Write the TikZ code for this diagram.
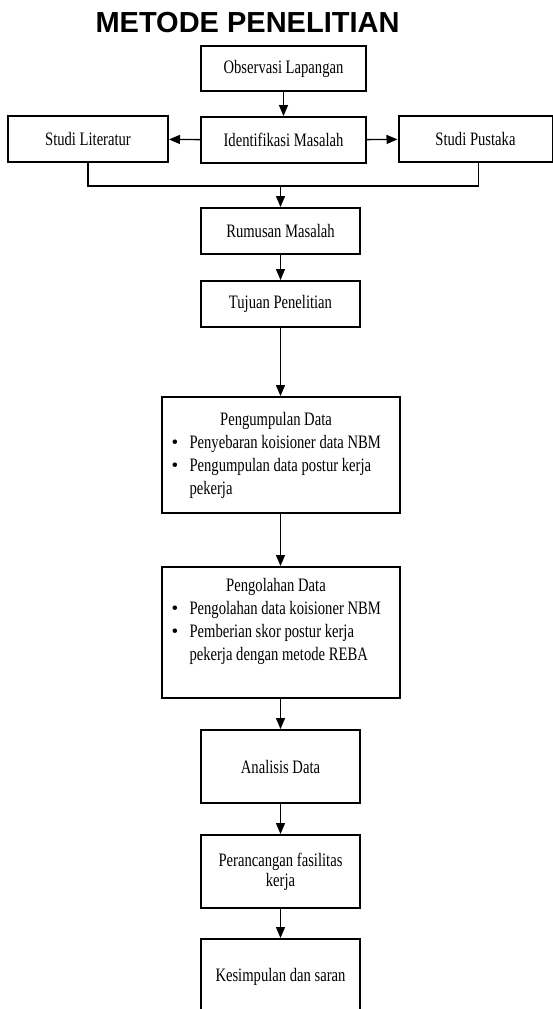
\documentclass[tikz,border=0pt]{standalone}
\usepackage{fontspec}
\setmainfont{Liberation Serif}[FakeStretch=0.77]
\newfontfamily\titlefont{Liberation Sans}
\newfontfamily\bulletfont{Liberation Serif}
\newcommand{\butir}{{\bulletfont\textbullet}}
\usepackage{tikz}
\usetikzlibrary{arrows.meta, positioning, calc}
\tikzset{
  stepbox/.style={rectangle,draw,line width=2pt,minimum width=159pt,minimum height=#1pt,
    align=center,inner sep=2pt,font=\fontsize{19}{20}\selectfont},
  widebox/.style={rectangle,draw,line width=2pt,minimum width=238pt,minimum height=#1pt,
    align=left,inner sep=2pt,font=\fontsize{19}{23}\selectfont},
  arrow/.style={-{Triangle[length=11pt,width=9pt]},line width=1.4pt},
  link/.style={line width=1.4pt},
}
\begin{document}
\begin{tikzpicture}[x=1pt,y=-1pt]
    \useasboundingbox (0,0) rectangle (553,1009);
    \clip (0,0) rectangle (553,1009);
    \node[anchor=base,font=\titlefont\bfseries\fontsize{29}{30}\selectfont] (judul) at (247.5,32) {METODE PENELITIAN};
    \node[stepbox=45,minimum width=165pt] (obs) at (283.5,68.5) {Observasi Lapangan};
    \node[stepbox=46,minimum width=165pt] (idn) at (283.5,140) {Identifikasi Masalah};
    \node[stepbox=46,minimum width=160pt] (lit) at (88,139) {Studi Literatur};
    \node[stepbox=46,minimum width=154pt] (pus) at (475.5,139) {Studi Pustaka};
    \foreach \name/\y/\h/\txt in {rum/231/46/{Rumusan Masalah}, tuj/304/46/{Tujuan Penelitian},
      ana/766.5/73/{Analisis Data}, per/871.5/73/{Perancangan fasilitas\\kerja},
      kes/977/76/{Kesimpulan dan saran}}
      \node[stepbox=\h] (\name) at (280.5,\y) {\txt};
    \node[widebox=116] (pgm) at (280.5,455) {%
      \begin{tabular}{@{}p{18pt}@{}p{200pt}@{}}
        \multicolumn{2}{@{}c@{}}{Pengumpulan Data\hspace*{9pt}}\\
        \butir & Penyebaran koisioner data NBM\\
        \butir & Pengumpulan data postur kerja\\
        & pekerja
      \end{tabular}};
    \node[widebox=131] (pgl) at (280.5,632.5) {%
      \begin{tabular}{@{}p{18pt}@{}p{200pt}@{}}
        \multicolumn{2}{@{}c@{}}{Pengolahan Data\hspace*{9pt}}\\
        \butir & Pengolahan data koisioner NBM\\
        \butir & Pemberian skor postur kerja\\
        & pekerja dengan metode REBA\\
        &
      \end{tabular}};
    \draw[arrow] (obs) -- (idn);
    \draw[arrow] (idn) -- (lit);
    \draw[arrow] (idn) -- (pus);
    \coordinate (bus) at (280.5,186);
    \draw[link] (lit.south) |- (bus) -| ([xshift=3pt]pus.south);
    \draw[arrow] (bus) -- (rum);
    \foreach \a/\b in {rum/tuj, tuj/pgm, pgm/pgl, pgl/ana, ana/per, per/kes}
      \draw[arrow] (\a) -- (\b);
\end{tikzpicture}
\end{document}
